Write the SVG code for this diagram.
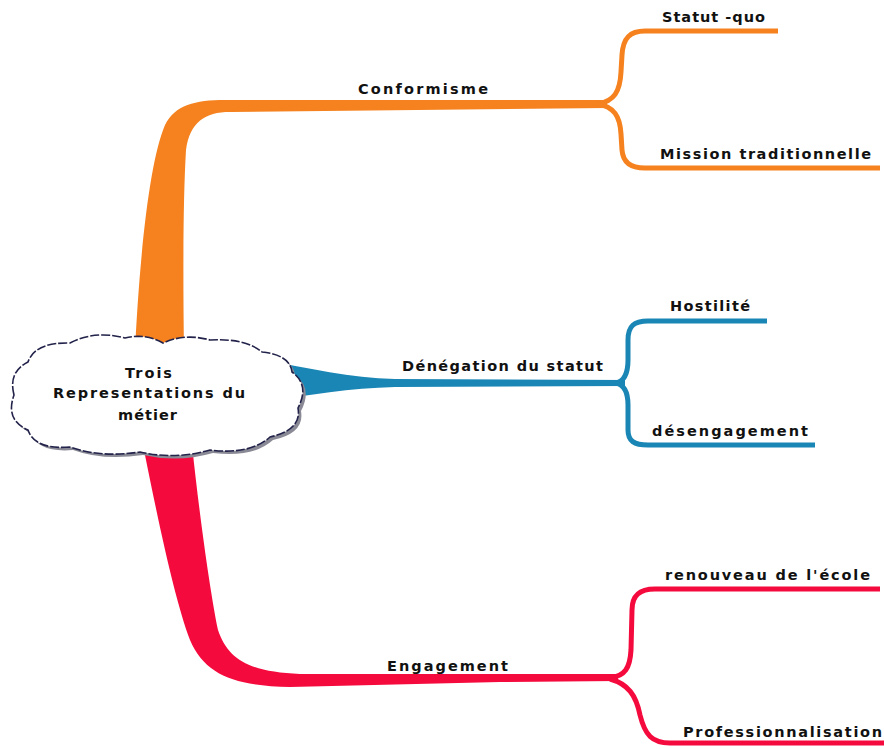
<svg xmlns="http://www.w3.org/2000/svg" width="884" height="749" viewBox="0 0 884 749">
<style>
.t{font-family:"DejaVu Sans","Liberation Sans",sans-serif;font-weight:bold;font-size:14.5px;fill:#111}
.sub{fill:none;stroke-width:5;stroke-linecap:butt;stroke-linejoin:round}
</style>
<rect width="884" height="749" fill="#fff"/>
<g id="connectors">
<path id="trunk-orange" fill="#F5821F" d="M135 350 C140 250,150 160,165 125 C175 105,195 100,225 100 L607 100 L607 108 L230 112 C205 112,190 122,186 150 C183 200,183 280,184 350 Z"/>
<path class="sub" stroke="#F5821F" d="M598 104 C614 101,620 92,621 72 L622 55 C623 38,630 31,645 31 L778 31"/>
<path class="sub" stroke="#F5821F" d="M598 104 C614 107,620 116,621 134 L622 150 C623 162,630 168,645 168 L880 168"/>
<path id="trunk-blue" fill="#1A86B5" d="M262 360 C310 368,350 378,395 379 L625 380 L625 386 L395 387 C350 388,310 395,262 402 Z"/>
<path class="sub" stroke="#1A86B5" d="M616 383 C625 381,628 372,628 360 L628 340 C628 326,634 321,648 321 L767 321"/>
<path class="sub" stroke="#1A86B5" d="M616 383 C625 385,628 394,628 405 L628 430 C628 441,634 445,648 445 L815 445"/>
<path id="trunk-red" fill="#F50A3D" d="M143 445 C160 530,175 600,190 640 C205 675,235 686,290 687 L500 682 L618 681 L618 674 L300 674 C250 672,228 660,218 630 C210 590,200 520,192 445 Z"/>
<path class="sub" stroke="#F50A3D" d="M610 678 C625 676,630 668,631 650 L632 610 C632 595,640 589,655 589 L880 589"/>
<path class="sub" stroke="#F50A3D" d="M610 679 C628 684,636 695,640 715 C645 735,652 743,670 743 L884 743"/>
</g>
<g id="center">
<path transform="translate(3,3)" fill="#8a8a96" d="M14 395 Q8 372 28 362 Q35 342 70 343 Q95 330 125 338 Q145 333 163 343 Q185 333 210 340 Q245 338 262 352 Q290 355 292 372 Q310 385 298 408 Q302 430 270 437 Q250 455 210 450 Q175 460 140 452 Q100 458 70 447 Q35 450 28 430 Q5 420 14 395 Z"/>
<path fill="#fff" stroke="#22224a" stroke-width="1.6" stroke-dasharray="9 2" d="M14 395 Q8 372 28 362 Q35 342 70 343 Q95 330 125 338 Q145 333 163 343 Q185 333 210 340 Q245 338 262 352 Q290 355 292 372 Q310 385 298 408 Q302 430 270 437 Q250 455 210 450 Q175 460 140 452 Q100 458 70 447 Q35 450 28 430 Q5 420 14 395 Z"/>
<text class="t" x="125" y="378" textLength="47" lengthAdjust="spacing">Trois</text>
<text class="t" x="53" y="398" textLength="192" lengthAdjust="spacing">Representations du</text>
<text class="t" x="118" y="420" textLength="59" lengthAdjust="spacing">métier</text>
</g>
<g id="conformisme"><text class="t" x="358" y="94" textLength="130" lengthAdjust="spacing">Conformisme</text></g>
<g id="statut-quo"><text class="t" x="662" y="22" textLength="103" lengthAdjust="spacing">Statut -quo</text></g>
<g id="mission"><text class="t" x="660" y="159" textLength="211" lengthAdjust="spacing">Mission traditionnelle</text></g>
<g id="denegation"><text class="t" x="402" y="371" textLength="201" lengthAdjust="spacing">Dénégation du statut</text></g>
<g id="hostilite"><text class="t" x="670" y="311" textLength="80" lengthAdjust="spacing">Hostilité</text></g>
<g id="desengagement"><text class="t" x="652" y="436" textLength="156" lengthAdjust="spacing">désengagement</text></g>
<g id="engagement"><text class="t" x="387" y="671" textLength="121" lengthAdjust="spacing">Engagement</text></g>
<g id="renouveau"><text class="t" x="665" y="580" textLength="205" lengthAdjust="spacing">renouveau de l'école</text></g>
<g id="professionnalisation"><text class="t" x="683" y="737" textLength="199" lengthAdjust="spacing">Professionnalisation</text></g>
</svg>
